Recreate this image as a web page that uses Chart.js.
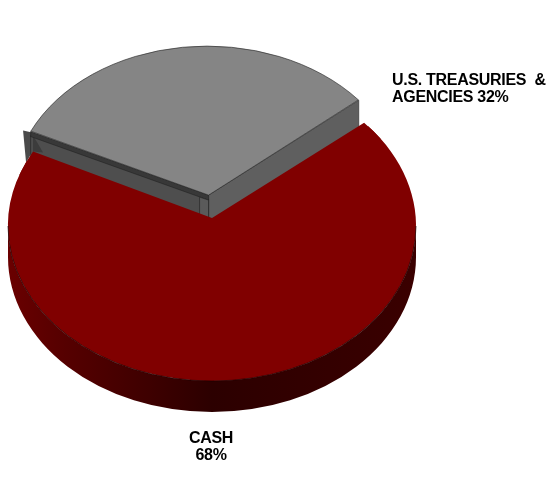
<!DOCTYPE html>
<html><head><meta charset="utf-8">
<style>html,body{margin:0;padding:0;background:#fff}canvas{display:block}</style>
<script src="https://cdn.jsdelivr.net/npm/chart.js@4"></script>
</head><body><canvas id="c" width="554" height="483"></canvas>
<script>
const categories = ['CASH', 'U.S. TREASURIES & AGENCIES'];
const values = [68, 32];
const colors = ['#800000', '#858585'];
const labelLines = [['CASH', '68%'], ['U.S. TREASURIES  &', 'AGENCIES 32%']];

const K = 0.76, DEPTH = 31, GREY_SCALE = 0.943, NOTCH_LIFT = 8;
const GREY_SHIFT = 2, GREY_SHEAR = 0.006;
const EDGE_R = 1.8 * Math.PI / 180, EDGE_L = 3.9 * Math.PI / 180;

const pie3d = {
  id: 'pie3d',
  beforeDatasetsDraw(chart) {
    const ctx = chart.ctx;
    const [red, grey] = chart.getDatasetMeta(0).data;
    const cx = red.x, cy = red.y, R = red.outerRadius;
    const squash = () => { ctx.translate(cx, cy); ctx.scale(1, K); ctx.translate(-cx, -cy); };
    const mid = (grey.startAngle + grey.endAngle) / 2;
    const o = grey.options.offset / 4;
    const ax = cx + Math.cos(mid) * o, ay = cy + Math.sin(mid) * o;
    const fix = 1 - Math.sin(Math.min(Math.PI, grey.circumference));
    const gr = (R + o * fix) * GREY_SCALE;
    const A = { x: ax + GREY_SHIFT, y: cy + (ay - cy) * K };
    const gp = (ang) => ({
      x: A.x + Math.cos(ang) * gr,
      y: A.y + Math.sin(ang) * gr * K + GREY_SHEAR * Math.cos(ang) * gr
    });
    const add = (p, dx, dy) => ({ x: p.x + dx, y: p.y + dy });
    const poly = (pts, fill, stroke) => {
      ctx.beginPath();
      pts.forEach((p, i) => i ? ctx.lineTo(p.x, p.y) : ctx.moveTo(p.x, p.y));
      ctx.closePath();
      ctx.fillStyle = fill; ctx.fill();
      if (stroke) { ctx.strokeStyle = stroke; ctx.lineWidth = 0.6; ctx.stroke(); }
    };
    const Cl = gp(grey.startAngle), Cr = gp(grey.endAngle);
    const redPt = (a) => ({ x: cx + Math.cos(a) * R, y: cy + Math.sin(a) * R * K });
    const a0 = red.startAngle, a1 = red.endAngle;
    const Rr = redPt(a0 - EDGE_R), Rl = redPt(a1 + EDGE_L);
    const notch = { x: cx, y: cy - NOTCH_LIFT };

    // outer rim of the red slice
    const g = ctx.createLinearGradient(cx - R, 0, cx + R, 0);
    g.addColorStop(0, '#6a0000'); g.addColorStop(0.12, '#580000');
    g.addColorStop(0.5, '#2c0000'); g.addColorStop(1, '#3a0000');
    ctx.beginPath();
    ctx.ellipse(cx, cy, R, R * K, 0, 0, Math.PI);
    ctx.ellipse(cx, cy + DEPTH, R, R * K, 0, Math.PI, 0, true);
    ctx.closePath(); ctx.fillStyle = g; ctx.fill();

    // side walls of the grey slice
    poly([add(Rl, -10, -21), add(Rl, -1, -19), add(Rl, -1, 1), add(Rl, -7, 11)], '#4a4a4a');
    poly([A, Cr, add(Cr, 0, 32), add(A, 0, 26)], '#5f5f5f', '#222');
    poly([add(Cl, 0, 4), add(A, 0, 4), add(A, 0, 26), add(Cl, 0, 26)], '#4e4e4e', '#222');
    poly([add(Rl, 0, -16), add(Rl, 10, 1), Rl], '#3c3c3c');
    poly([Cl, A, add(A, 0, 5), add(Cl, 0, 5)], '#383838', '#222');
    poly([add(A, -9, 2), add(A, 0, 5), add(A, 0, 26), add(A, -9, 26)], '#5a5a5a', '#222');

    // red top, with the notch edges drawn as the picture shows them
    ctx.save(); squash(); red.draw(ctx); ctx.restore();
    ctx.beginPath();
    ctx.moveTo(notch.x, notch.y);
    ctx.lineTo(Rr.x, Rr.y);
    ctx.ellipse(cx, cy, R, R * K, 0, a0 - EDGE_R, a0 + 0.1);
    ctx.lineTo(cx, cy + 12);
    ctx.ellipse(cx, cy, R, R * K, 0, a1 - 0.1, a1 + EDGE_L);
    ctx.closePath();
    ctx.fillStyle = colors[0]; ctx.fill();
    ctx.beginPath();
    ctx.ellipse(cx, cy, R, R * K, 0, 0, Math.PI);
    ctx.strokeStyle = '#1a0000'; ctx.lineWidth = 0.7; ctx.stroke();

    // grey top
    ctx.save();
    ctx.translate(A.x, A.y);
    ctx.transform(1, GREY_SHEAR, 0, 1, 0, 0);
    ctx.translate(-A.x, -A.y);
    ctx.translate(GREY_SHIFT, 0);
    squash();
    ctx.translate(ax, ay); ctx.scale(GREY_SCALE, GREY_SCALE); ctx.translate(-ax, -ay);
    grey.draw(ctx); ctx.restore();
    return false;
  },
  afterDraw(chart) {
    const ctx = chart.ctx;
    ctx.save();
    ctx.fillStyle = '#000';
    ctx.font = 'bold 16px "Liberation Sans", Arial, sans-serif';
    ctx.letterSpacing = '-0.3px';
    ctx.textAlign = 'center';
    labelLines[0].forEach((t, i) => ctx.fillText(t, 211, 443 + i * 17));
    ctx.textAlign = 'left';
    labelLines[1].forEach((t, i) => ctx.fillText(t, 392, 85 + i * 17));
    ctx.restore();
  }
};

new Chart(document.getElementById('c'), {
  type: 'pie',
  data: {
    labels: categories,
    datasets: [{
      data: values,
      backgroundColor: colors,
      borderWidth: [0, 0.8],
      borderColor: ['#800000', '#2a2a2a'],
      offset: [0, 164],
      radius: 204,
      clip: false
    }]
  },
  plugins: [pie3d],
  options: {
    responsive: false,
    devicePixelRatio: 1,
    animation: false,
    rotation: 50,
    layout: { padding: { left: 0, top: 0, right: 130, bottom: 31 } },
    plugins: { legend: { display: false }, tooltip: { enabled: false } }
  }
});
</script></body></html>
